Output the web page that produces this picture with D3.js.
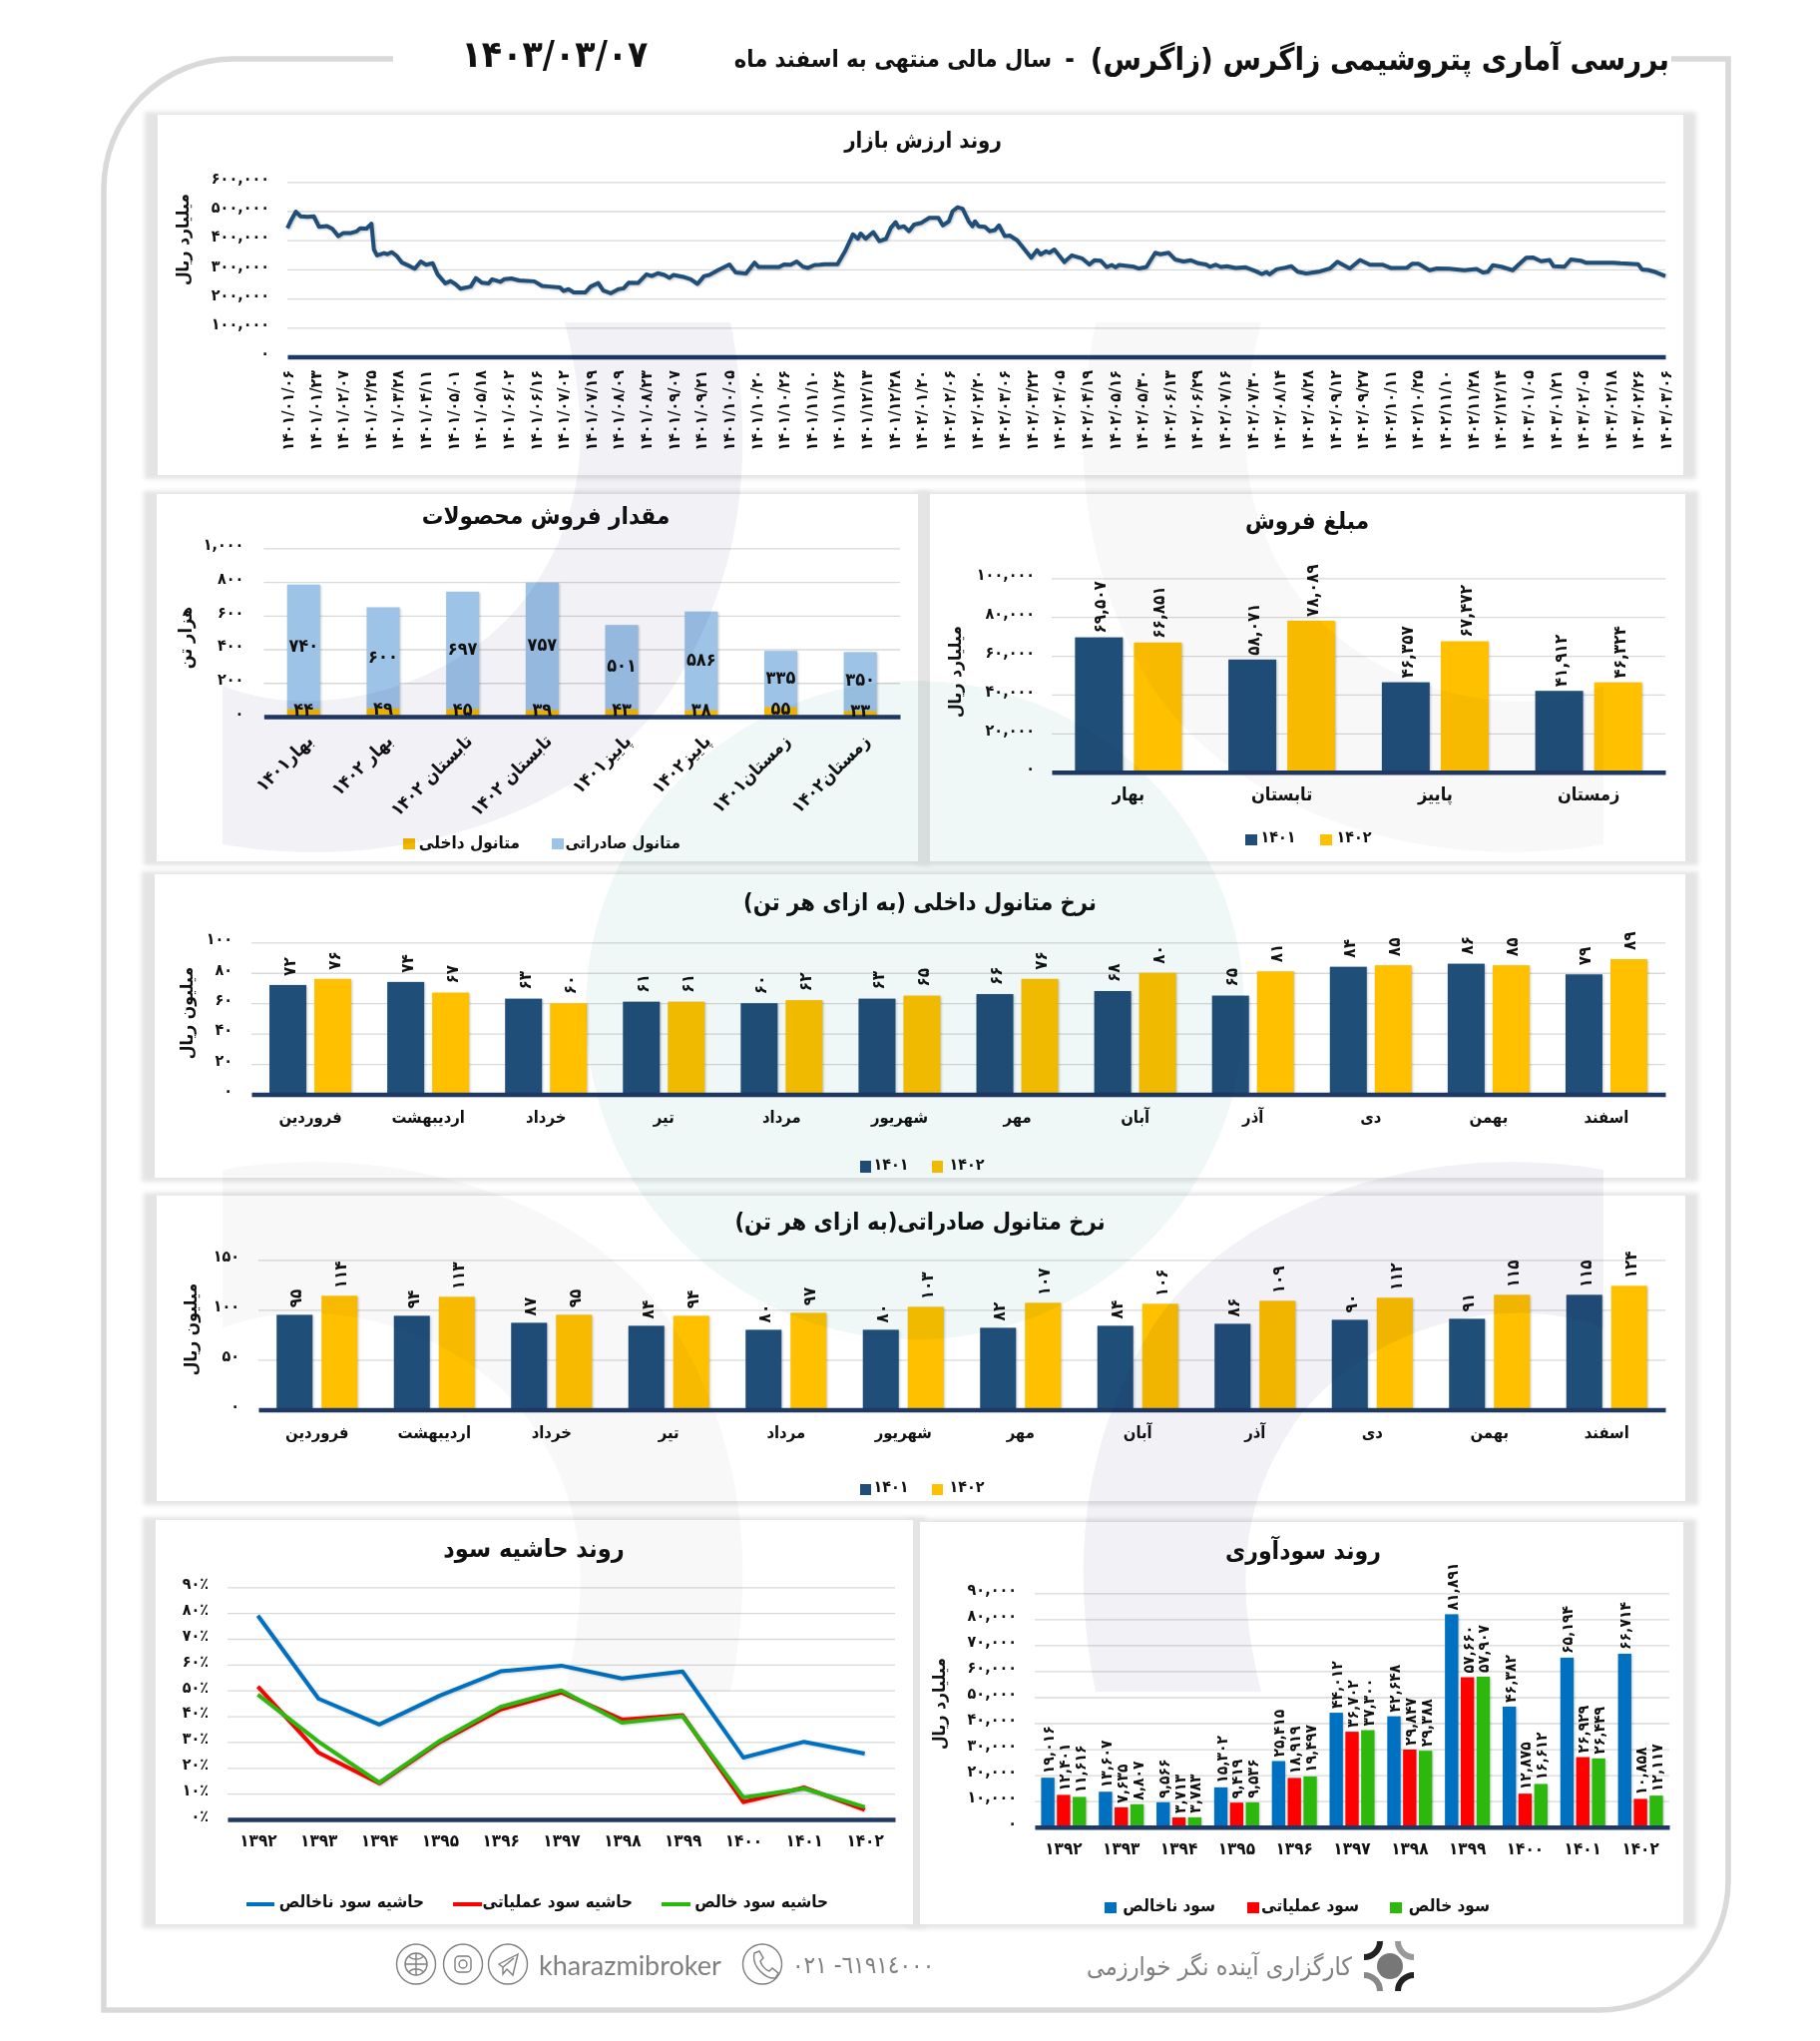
<!DOCTYPE html>
<html lang="fa">
<head>
<meta charset="utf-8">
<script src="https://cdn.jsdelivr.net/npm/d3@7"></script>
<style>
html,body{margin:0;padding:0;background:#fff}
svg{display:block}
text{font-family:'DejaVu Sans',sans-serif;font-weight:bold;fill:#111;font-stretch:condensed}
.bars rect{filter:drop-shadow(1px 1px 1px rgba(0,0,0,.22))}
</style>
</head>
<body>
<svg id="c" width="1824" height="2045" xmlns="http://www.w3.org/2000/svg"></svg>
<script>
// ---------- DATA ----------
const marketDates = ["1401/01/06","1401/01/23","1401/02/07","1401/02/25","1401/03/28","1401/04/11","1401/05/01","1401/05/18","1401/06/02","1401/06/16","1401/07/02","1401/07/19","1401/08/09","1401/08/23","1401/09/07","1401/09/21","1401/10/05","1401/10/20","1401/10/26","1401/11/10","1401/11/26","1401/12/13","1401/12/28","1402/01/20","1402/02/06","1402/02/20","1402/03/06","1402/03/22","1402/04/05","1402/04/19","1402/05/16","1402/05/30","1402/06/13","1402/06/29","1402/07/16","1402/07/30","1402/08/14","1402/08/28","1402/09/12","1402/09/27","1402/10/11","1402/10/25","1402/11/10","1402/11/28","1402/12/14","1403/01/05","1403/01/21","1403/02/05","1403/02/18","1403/02/26","1403/03/06"];
// position along the date axis (in label steps) and market value (thousand billion rials)
const marketPos = [0,.15,.31,.48,.74,.96,1.15,1.44,1.63,1.85,2.03,2.31,2.5,2.64,2.87,3.05,3.14,3.25,3.51,3.62,3.79,3.97,4.16,4.44,4.62,4.84,5.03,5.27,5.45,5.73,5.92,6.1,6.28,6.65,6.84,7.06,7.3,7.43,7.73,7.86,8.13,8.41,8.96,9.24,9.52,9.89,10.02,10.2,10.39,10.81,11,11.28,11.46,11.74,12.01,12.2,12.38,12.72,13.03,13.22,13.44,13.68,13.86,14.01,14.42,14.64,14.88,15.12,15.31,15.62,16.04,16.27,16.64,16.95,17.1,17.84,18.02,18.26,18.48,18.71,18.89,19.13,19.32,19.5,19.96,20.24,20.52,20.7,20.8,20.98,21.26,21.48,21.72,21.9,22.07,22.18,22.37,22.55,22.74,23.01,23.29,23.62,23.78,24,24.14,24.32,24.5,24.72,24.86,24.95,25.08,25.31,25.49,25.67,25.82,26.03,26.21,26.48,26.7,26.99,27.2,27.33,27.53,27.65,27.83,28.19,28.46,28.83,29.1,29.28,29.51,29.73,29.91,30.05,30.18,30.72,30.9,31.17,31.49,31.67,31.98,32.21,32.52,32.79,33.06,33.33,33.47,33.69,33.87,34.09,34.41,34.77,35.13,35.35,35.53,35.64,35.89,36.21,36.43,36.66,36.97,37.47,37.83,38.1,38.28,38.55,38.92,39.28,39.73,40.03,40.63,40.81,41.04,41.44,41.71,42.16,42.7,43.15,43.38,43.56,43.74,44.05,44.46,44.68,44.95,45.19,45.49,45.8,45.94,46.34,46.57,46.93,47.11,48.1,48.37,49.01,49.15,49.37,49.64,50];
const marketVal = [441,471,498,482,480,482,446,449,439,414,425,425,430,441,440,457,368,348,356,352,359,346,323,311,302,327,316,321,283,252,260,249,234,241,270,254,252,266,257,266,269,262,259,243,241,238,226,232,221,221,241,253,227,218,232,235,254,253,283,277,287,281,271,281,273,266,250,277,281,297,317,289,286,323,308,308,317,316,327,309,305,315,316,318,318,363,420,405,423,405,428,397,405,443,462,443,448,431,454,460,477,477,451,465,500,513,508,465,448,465,448,446,431,435,451,414,416,400,374,340,366,351,362,357,368,325,348,338,317,331,330,308,315,307,315,309,303,308,357,352,357,334,327,331,321,317,309,316,308,311,305,307,294,284,291,283,300,306,311,292,286,293,303,326,317,303,332,316,316,305,306,319,319,297,303,302,297,301,289,292,314,309,297,317,340,341,328,332,311,309,334,330,323,323,321,318,300,298,291,277];
const marketTicks = [0,100,200,300,400,500,600];

const qtyCats = ["بهار۱۴۰۱","بهار ۱۴۰۲","تابستان ۱۴۰۲","تابستان ۱۴۰۲","پاییز۱۴۰۱","پاییز۱۴۰۲","زمستان۱۴۰۱","زمستان۱۴۰۲"];
const qtyDomestic = [44,49,45,39,43,38,55,33];
const qtyExport = [740,600,697,757,501,586,335,350];
const qtyTicks = [0,200,400,600,800,1000];

const seasons = ["بهار","تابستان","پاییز","زمستان"];
const sales1401 = [69507,58071,46357,41912];
const sales1402 = [66851,78089,67472,46324];
const salesTicks = [0,20000,40000,60000,80000,100000];

const months = ["فروردین","اردیبهشت","خرداد","تیر","مرداد","شهریور","مهر","آبان","آذر","دی","بهمن","اسفند"];
const domestic1401 = [72,74,63,61,60,63,66,68,65,84,86,79];
const domestic1402 = [76,67,60,61,62,65,76,80,81,85,85,89];
const domesticTicks = [0,20,40,60,80,100];
const export1401 = [95,94,87,84,80,80,82,84,86,90,91,115];
const export1402 = [114,113,95,94,97,103,107,106,109,112,115,124];
const exportTicks = [0,50,100,150];

const years = ["1392","1393","1394","1395","1396","1397","1398","1399","1400","1401","1402"];
const marginGross = [79,46.8,36.8,48,57.4,59.6,54.6,57.3,24,30.1,25.5];
const marginOperating = [51.5,25.9,14,30,42.6,49.2,38.7,40.4,6.7,12.4,3.7];
const marginNet = [48.4,30.1,14.3,30.5,43.6,50,37.5,40,8.5,12,4.8];
const marginTicks = [0,10,20,30,40,50,60,70,80,90];

const profitGross = [19016,13607,9566,15302,25415,44012,42648,81891,46382,65194,66714];
const profitOperating = [12401,7635,3713,9419,18919,36702,29847,57660,12875,26929,10858];
const profitNet = [11616,8807,3783,9536,19497,37300,29388,57907,16612,26449,12117];
const profitTicks = [0,10000,20000,30000,40000,50000,60000,70000,80000,90000];

// ---------- HELPERS ----------
const C = {navy:'#1F4E79',base:'#1F3864',yellow:'#FFC000',sky:'#9DC3E6',orange:'#F5B800',blue:'#0070C0',red:'#FF0000',green:'#2DB80E',grid:'#D9D9D9'};
const fa = s => String(s).replace(/\d/g,d=>'۰۱۲۳۴۵۶۷۸۹'[d]);
const num = d3.format(',');
const faNum = v => fa(num(v));
const svg = d3.select('#c');
const panels = svg.append('g'), charts = svg.append('g'), overlay = svg.append('g');

function txt(g,x,y,s,size,opt={}){
  const t=g.append('text').attr('x',x).attr('y',y).attr('font-size',size).attr('text-anchor',opt.anchor||'middle')
    .attr('dominant-baseline','central').text(s);
  if(opt.fill)t.style('fill',opt.fill);
  if(opt.rotate!==undefined)t.attr('transform',`rotate(${opt.rotate} ${x} ${y})`);
  if(opt.weight)t.style('font-weight',opt.weight);
  if(opt.family)t.style('font-family',opt.family);
  return t;
}
function panel(x0,y0,x1,y1){
  panels.append('rect').attr('x',x0-13).attr('y',y0-3).attr('width',x1-x0+26).attr('height',y1-y0+7)
    .attr('fill','#E4E4E4').style('filter','blur(2px)');
}
function panelWhite(x0,y0,x1,y1){
  panels.append('rect').attr('x',x0).attr('y',y0).attr('width',x1-x0).attr('height',y1-y0).attr('fill','#fff');
}
function yAxis(x0,x1,y,ticks,fmt,size,pad){
  const g=charts.append('g').attr('transform',`translate(${x0},0)`)
    .call(d3.axisLeft(y).tickValues(ticks).tickSize(-(x1-x0)).tickPadding(pad).tickFormat(fmt));
  g.select('.domain').remove();
  g.selectAll('line').attr('stroke',C.grid).attr('stroke-width',1.3);
  g.selectAll('text').attr('font-size',size).attr('dy','.08em').style('font-family',"'DejaVu Sans',sans-serif");
  return g;
}
function xAxis(x,yb,fmt,size,pad){
  const g=charts.append('g').attr('transform',`translate(0,${yb})`)
    .call(d3.axisBottom(x).tickSize(0).tickPadding(pad).tickFormat(fmt));
  g.select('.domain').attr('stroke',C.base).attr('stroke-width',4.5);
  g.selectAll('text').attr('font-size',size).style('font-family',"'DejaVu Sans',sans-serif");
  return g;
}
function legendRect(x,y,w,h,c){charts.append('rect').attr('x',x).attr('y',y).attr('width',w).attr('height',h).attr('fill',c);}

// grouped rotated-label bars
function groupedBars(cats,series,colors,x,y,total,inner,lab){
  const g=charts.append('g').attr('class','bars');
  const xin=d3.scaleBand().domain(d3.range(series.length)).range([0,total]).paddingInner(inner);
  series.forEach((vals,si)=>{
    g.selectAll(null).data(vals).join('rect')
      .attr('x',(d,i)=>x(cats[i])+x.bandwidth()/2-total/2+xin(si))
      .attr('width',xin.bandwidth()).attr('y',d=>y(d)).attr('height',d=>y(0)-y(d)).attr('fill',colors[si]);
  });
  const tg=charts.append('g');
  series.forEach((vals,si)=>{
    tg.selectAll(null).data(vals).join('text')
      .attr('font-size',lab.size).attr('text-anchor','start').attr('dominant-baseline','central')
      .attr('transform',(d,i)=>`translate(${x(cats[i])+x.bandwidth()/2-total/2+xin(si)+xin.bandwidth()/2+1},${y(d)-lab.gap}) rotate(-90)`)
      .text(d=>lab.fmt(d));
  });
}

// ---------- FRAME ----------
panels.append('path')
  .attr('d','M394,59 H234 A130,130 0 0 0 104,189 V2014 H1602 A130,130 0 0 0 1732,1884 V59 H1675')
  .attr('fill','none').attr('stroke','#D9D9D9').attr('stroke-width',5.5);

const boxes=[[158,115,1687,476],[157,495,920,863],[932,495,1689,863],[155,876,1689,1180],[157,1198,1689,1504],[156,1523,915,1928],[922,1525,1687,1928]];
boxes.forEach(b=>panel(...b));
boxes.forEach(b=>panelWhite(...b));

// ---------- TITLES ----------
txt(charts,1673,59,'بررسی آماری پتروشیمی زاگرس (زاگرس)',31,{anchor:'end'});
txt(charts,1072,59,'-',26);
txt(charts,1054,59,'سال مالی منتهی به اسفند ماه',23.5,{anchor:'end'});
txt(charts,556,54,fa('1403/03/07'),37);

// ---------- MARKET ----------
{
  const x0=288,x1=1669;
  const y=d3.scaleLinear().domain([0,600]).range([357.5,182.3]);
  const x=d3.scaleLinear().domain([0,50]).range([x0,x1]);
  txt(charts,925,140,'روند ارزش بازار',22);
  yAxis(x0,x1,y,marketTicks,d=>fa(num(d*1000)),16,18);
  const bx=d3.axisBottom(x).tickValues(d3.range(marketDates.length)).tickSize(0).tickFormat(i=>fa(marketDates[i]));
  const g=charts.append('g').attr('transform','translate(0,357.5)').call(bx);
  g.select('.domain').attr('stroke',C.base).attr('stroke-width',4.5);
  g.selectAll('text').attr('font-size',16).attr('text-anchor','end').attr('dominant-baseline','central')
    .attr('y',0).attr('dy',0).attr('transform','translate(0,13.5) rotate(-90)').style('font-family',"'DejaVu Sans',sans-serif");
  const line=d3.line().x((d,i)=>x(marketPos[i])).y(d=>y(d));
  charts.append('path').attr('d',line(marketVal)).attr('fill','none').attr('stroke',C.navy).attr('stroke-width',4)
    .attr('stroke-linejoin','round').style('filter','drop-shadow(1px 1px 1px rgba(0,0,0,.25))');
  txt(charts,183,240,'میلیارد ریال',17.5,{rotate:-90});
}
// ---------- QUANTITY ----------
{
  const x0=264.4,x1=902;
  const y=d3.scaleLinear().domain([0,1000]).range([718,549.3]);
  const x=d3.scaleBand().domain(d3.range(qtyCats.length)).range([x0,x1]);
  txt(charts,547,517,'مقدار فروش محصولات',24);
  yAxis(x0,x1,y,qtyTicks,faNum,16,20);
  const bw=33;
  const g=charts.append('g').attr('class','bars');
  g.selectAll(null).data(qtyExport).join('rect')
    .attr('x',(d,i)=>x(i)+x.bandwidth()/2-bw/2).attr('width',bw)
    .attr('y',(d,i)=>y(d+qtyDomestic[i])).attr('height',(d,i)=>y(qtyDomestic[i])-y(d+qtyDomestic[i])).attr('fill',C.sky);
  g.selectAll(null).data(qtyDomestic).join('rect')
    .attr('x',(d,i)=>x(i)+x.bandwidth()/2-bw/2).attr('width',bw)
    .attr('y',d=>y(d)).attr('height',d=>y(0)-y(d)).attr('fill',C.orange);
  const ax=xAxis(x,718,i=>qtyCats[i],18,0);
  ax.selectAll('text').attr('text-anchor','end').attr('dominant-baseline','central').attr('y',0).attr('dy',0)
    .attr('transform','translate(6,21) rotate(-45)');
  const t=charts.append('g');
  t.selectAll(null).data(qtyExport).join('text').attr('font-size',18).attr('text-anchor','middle').attr('dominant-baseline','central')
    .attr('x',(d,i)=>x(i)+x.bandwidth()/2).attr('y',(d,i)=>y(qtyDomestic[i]+d/2)-2).text(d=>fa(d));
  t.selectAll(null).data(qtyDomestic).join('text').attr('font-size',18).attr('text-anchor','middle').attr('dominant-baseline','central')
    .attr('x',(d,i)=>x(i)+x.bandwidth()/2).attr('y',d=>y(d/2)-4).text(d=>fa(d));
  txt(charts,185,639,'هزار تن',18,{rotate:-90});
  legendRect(404,840,12,11,C.orange); txt(charts,521,844,'متانول داخلی',17,{anchor:'end'});
  legendRect(553,840,12,11,C.sky); txt(charts,682,844,'متانول صادراتی',16.5,{anchor:'end'});
}
// ---------- SALES ----------
{
  const x0=1054,x1=1669;
  const y=d3.scaleLinear().domain([0,100000]).range([773.7,579.3]);
  const x=d3.scaleBand().domain(seasons).range([x0,x1]);
  txt(charts,1310,522,'مبلغ فروش',24);
  yAxis(x0,x1,y,salesTicks,faNum,16,17);
  groupedBars(seasons,[sales1401,sales1402],[C.navy,C.yellow],x,y,107,11/58.5,{size:17,gap:4,fmt:faNum});
  xAxis(x,773.7,d=>d,18,16);
  txt(charts,957,673,'میلیارد ریال',17.5,{rotate:-90});
  legendRect(1248,836,12,11,C.navy); txt(charts,1281,838,fa('1401'),16);
  legendRect(1323,836,12,11,C.yellow); txt(charts,1357,838,fa('1402'),16);
}
// ---------- DOMESTIC ----------
{
  const x0=252,x1=1669;
  const y=d3.scaleLinear().domain([0,100]).range([1096.5,944.3]);
  const x=d3.scaleBand().domain(months).range([x0,x1]);
  txt(charts,922,904,'نرخ متانول داخلی (به ازای هر تن)',23.5);
  yAxis(x0,x1,y,domesticTicks,d=>fa(d),16,19);
  groupedBars(months,[domestic1401,domestic1402],[C.navy,C.yellow],x,y,82,8/45,{size:17,gap:9,fmt:d=>fa(d)});
  xAxis(x,1096.5,d=>d,16.5,17);
  txt(charts,187,1015,'میلیون ریال',17.5,{rotate:-90});
  legendRect(862,1163,11,12,C.navy); txt(charts,893,1166,fa('1401'),16);
  legendRect(934,1163,11,12,C.yellow); txt(charts,969,1166,fa('1402'),16);
}
// ---------- EXPORT ----------
{
  const x0=259,x1=1669;
  const y=d3.scaleLinear().domain([0,150]).range([1412.5,1262.3]);
  const x=d3.scaleBand().domain(months).range([x0,x1]);
  txt(charts,922,1224,'نرخ متانول  صادراتی(به ازای هر تن)',23.5);
  yAxis(x0,x1,y,exportTicks,d=>fa(d),16,19);
  groupedBars(months,[export1401,export1402],[C.navy,C.yellow],x,y,81,9/45,{size:17,gap:7,fmt:d=>fa(d)});
  xAxis(x,1412.5,d=>d,16.5,17);
  txt(charts,191,1332,'میلیون ریال',17.5,{rotate:-90});
  legendRect(862,1487,11,11,C.navy); txt(charts,893,1489,fa('1401'),16);
  legendRect(934,1487,11,11,C.yellow); txt(charts,969,1489,fa('1402'),16);
}
// ---------- MARGINS ----------
{
  const x0=228,x1=897;
  const y=d3.scaleLinear().domain([0,90]).range([1823,1590.3]);
  const x=d3.scalePoint().domain(years).range([x0,x1]).padding(.5);
  txt(charts,535,1551,'روند حاشیه سود',25);
  yAxis(x0,x1,y,marginTicks,d=>fa(d)+'٪',16,19);
  xAxis(x,1823,d=>fa(d),17,15);
  const line=d3.line().x((d,i)=>x(years[i])).y(d=>y(d));
  [[marginGross,C.blue],[marginOperating,C.red],[marginNet,C.green]].forEach(([v,c])=>{
    charts.append('path').attr('d',line(v)).attr('fill','none').attr('stroke',c).attr('stroke-width',4)
      .attr('stroke-linejoin','round').style('filter','drop-shadow(1px 1px 1px rgba(0,0,0,.18))');
  });
  [[247,275,C.blue,425,'حاشیه سود ناخالص'],[454,483,C.red,634,'حاشیه سود عملیاتی'],[663,692,C.green,830,'حاشیه سود خالص']].forEach(([a,b,c,e,s])=>{
    charts.append('line').attr('x1',a).attr('x2',b).attr('y1',1908).attr('y2',1908).attr('stroke',c).attr('stroke-width',4);
    txt(charts,e,1905,s,17,{anchor:'end'});
  });
}
// ---------- PROFIT ----------
{
  const x0=1037,x1=1673;
  const y=d3.scaleLinear().domain([0,90000]).range([1830.7,1596.3]);
  const x=d3.scaleBand().domain(years).range([x0,x1]);
  txt(charts,1306,1553,'روند سودآوری',24.5);
  yAxis(x0,x1,y,profitTicks,faNum,16,18);
  groupedBars(years,[profitGross,profitOperating,profitNet],[C.blue,C.red,C.green],x,y,45,2.5/16,{size:15.5,gap:4,fmt:faNum});
  xAxis(x,1830.7,d=>fa(d),17,15);
  txt(charts,941,1707,'میلیارد ریال',17.5,{rotate:-90});
  [[1107,C.blue,1218,'سود ناخالص'],[1250,C.red,1362,'سود عملیاتی'],[1393,C.green,1493,'سود خالص']].forEach(([a,c,e,s])=>{
    legendRect(a,1906,12,11,c); txt(charts,e,1909,s,17,{anchor:'end'});
  });
}
// ---------- FOOTER ----------
{
  const g=charts.append('g');
  const grey='#7f7f7f';
  txt(g,1355,1970,'کارگزاری آینده نگر خوارزمی',25,{anchor:'end',fill:grey,weight:'normal'});
  g.append('circle').attr('cx',1393).attr('cy',1970).attr('r',13).attr('fill','#777');
  [['M1383,1945 A16,16 0 0 1 1367,1961','#222'],['M1401,1945 A16,16 0 0 0 1417,1961','#999'],['M1367,1979 A16,16 0 0 1 1383,1995','#888'],['M1417,1979 A16,16 0 0 0 1401,1995','#222']]
    .forEach(([d,c])=>g.append('path').attr('d',d).attr('fill','none').attr('stroke',c).attr('stroke-width',6));
  txt(g,794,1969,'\u202D٠٢١ -٦١٩١٤٠٠٠\u202C',24,{anchor:'start',fill:grey,weight:'normal'}).attr('letter-spacing',5);
  txt(g,540,1968,'kharazmibroker',27,{anchor:'start',fill:grey,weight:'normal',family:'Lato'});
  [764,417,464,509].forEach(cx=>g.append('ellipse').attr('cx',cx).attr('cy',1968).attr('rx',19.5).attr('ry',20).attr('fill','none').attr('stroke',grey).attr('stroke-width',1.4));
  const s={fill:'none',stroke:grey,'stroke-width':1.4};
  const p=d=>{const e=g.append('path').attr('d',d);Object.entries(s).forEach(([k,v])=>e.attr(k,v));};
  p('M756,1957 l5,-2 4,7 -3,3 c1,4 5,9 9,10 l3,-3 6,5 -3,5 c-10,1 -24,-12 -21,-25 z');
  p('M500,1968 L519,1958 L514,1979 L508,1973 L504,1978 L504,1971 Z M504,1971 L515,1962');
  g.append('rect').attr('x',456).attr('y',1960).attr('width',16).attr('height',16).attr('rx',4).attr('fill','none').attr('stroke',grey).attr('stroke-width',1.4);
  g.append('circle').attr('cx',464).attr('cy',1968).attr('r',4).attr('fill','none').attr('stroke',grey).attr('stroke-width',1.4);
  g.append('circle').attr('cx',417).attr('cy',1968).attr('r',11).attr('fill','none').attr('stroke',grey).attr('stroke-width',1.4);
  p('M406,1968 H428 M417,1957 V1979 M409,1960 C414,1964 420,1964 425,1960 M409,1976 C414,1972 420,1972 425,1976');
}
// ---------- WATERMARK ----------
{
  const arc='M566,323 H732 C755,440 750,560 680,680 C610,800 420,880 223,846 V687 C330,730 480,680 540,580 C590,500 590,420 566,323 Z';
  const m=[['none','#F1F1F6'],['translate(1830,0) scale(-1,1)','#F8F8F8'],['translate(0,2018) scale(1,-1)','#F8F8F8'],['translate(1830,2018) scale(-1,-1)','#F1F1F6']];
  m.forEach(([t,c])=>{
    const e=overlay.append('path').attr('d',arc).attr('fill',c).style('mix-blend-mode','multiply');
    if(t!=='none')e.attr('transform',t);
  });
  overlay.append('circle').attr('cx',917).attr('cy',1012).attr('r',330).attr('fill','#F0F8F7').style('mix-blend-mode','multiply');
}
</script>
</body>
</html>
